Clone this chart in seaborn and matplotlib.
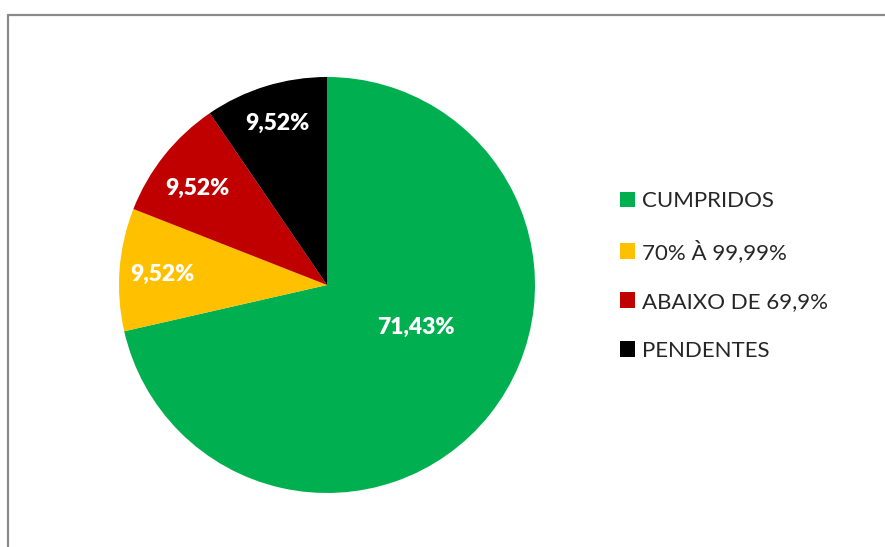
import matplotlib
matplotlib.use("Agg")
import matplotlib.pyplot as plt
import seaborn as sns
from matplotlib.lines import Line2D
from matplotlib.patches import Patch

# data
categories = ["CUMPRIDOS", "70% À 99,99%", "ABAIXO DE 69,9%", "PENDENTES"]
counts = [15, 2, 2, 2]
pct_labels = ["71,43%", "9,52%", "9,52%", "9,52%"]
colors = ["#00B050", "#FFC000", "#C00000", "#000000"]

# label spots (in units of the pie radius), like Excel's best fit
label_xy = [(0.428, -0.205), (-0.793, 0.050), (-0.623, 0.466), (-0.238, 0.778)]

sns.set_theme(style="white")
plt.rcParams["font.family"] = ["Lato", "DejaVu Sans"]

W, H = 885, 547
fig = plt.figure(figsize=(W / 100, H / 100), dpi=100)

# pie centre and radius in pixels
cx, cy, r = 327, 285, 208
ax = fig.add_axes([(cx - r) / W, (H - cy - r) / H, 2 * r / W, 2 * r / H])

wedges, _ = ax.pie(counts, colors=colors, startangle=90, counterclock=False,
                   wedgeprops={"linewidth": 0})
ax.set_xlim(-1, 1)
ax.set_ylim(-1, 1)
ax.set_aspect("equal")
ax.axis("off")

for (x, y), txt in zip(label_xy, pct_labels):
    ax.text(x, y, txt, color="white", fontsize=16.5, fontweight="heavy",
            ha="center", va="center")

# legend
handles = [Patch(facecolor=c, edgecolor="none") for c in colors]
fig.legend(handles, categories, loc="center left",
           bbox_to_anchor=(611 / W, 1 - 276 / H), frameon=False,
           fontsize=16, handlelength=0.7, handleheight=0.7,
           handletextpad=0.3, labelspacing=1.3, borderaxespad=0)

# chart area border (only left and top edges visible)
fig.add_artist(Line2D([8 / W, 8 / W], [0, 1 - 15 / H], color="#898989",
                      linewidth=1.6, transform=fig.transFigure))
fig.add_artist(Line2D([8 / W, 1], [1 - 15 / H, 1 - 15 / H], color="#898989",
                      linewidth=1.6, transform=fig.transFigure))

fig.savefig("out.png", dpi=100, facecolor="white")
